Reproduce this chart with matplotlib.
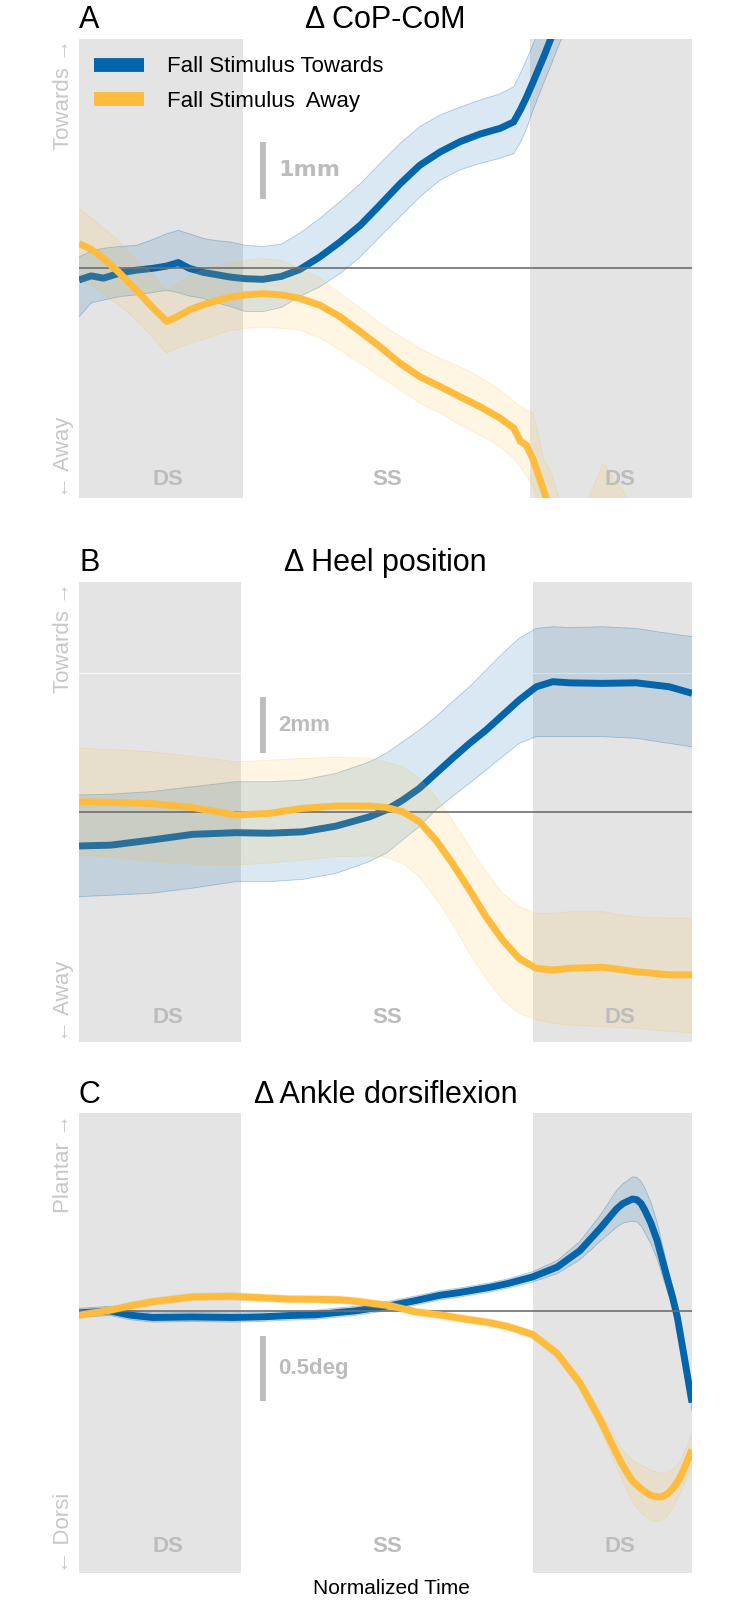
"""
Delta CoP-CoM, heel position and ankle dorsiflexion after a fall stimulus
"""

import matplotlib
matplotlib.use('Agg')
import matplotlib.pyplot as plt
from matplotlib.lines import Line2D

plt.rcParams['font.family'] = ['Liberation Sans', 'DejaVu Sans']

# ---- data (x in % of normalized time) ----
phase_labels = ['DS', 'SS', 'DS']
legend_labels = ['Fall Stimulus Towards', 'Fall Stimulus  Away']

# panel A: CoP-CoM (mm)
t_a = [0, 2, 4, 6.7, 9.4, 12, 14.3, 16.2, 18, 20.3, 22.5, 24.6, 27.2, 30, 33, 36,
       39.3, 42.6, 45.9, 49.1, 52.4, 55.6, 58.9, 62.2, 65.4, 68.7, 70.9, 72.0,
       73.0, 74.1, 75.8, 77.1, 78.5, 82.9, 85.5, 90.4, 95, 100]
towards_a = [-0.2, -0.13, -0.17, -0.08, -0.03, 0.0, 0.04, 0.10, 0.0, -0.07, -0.11,
             -0.15, -0.18, -0.19, -0.14, -0.02, 0.2, 0.46, 0.75, 1.10, 1.47, 1.79,
             2.02, 2.20, 2.33, 2.43, 2.54, 2.75, 2.97, 3.24, 3.67, 4.02, 4.36, 5.3,
             5.8, 6.7, 7.5, 8.3]
towards_a_hi = [0.2, 0.3, 0.35, 0.38, 0.40, 0.5, 0.6, 0.66, 0.6, 0.52, 0.48, 0.46,
                0.40, 0.38, 0.42, 0.61, 0.87, 1.16, 1.47, 1.82, 2.17, 2.46, 2.66,
                2.80, 2.92, 3.03, 3.15, 3.38, 3.62, 3.90, 4.25, 4.5, 4.8, 5.9, 6.4,
                7.3, 8.1, 8.9]
towards_a_lo = [-0.84, -0.6, -0.55, -0.49, -0.46, -0.42, -0.38, -0.42, -0.48, -0.52,
                -0.6, -0.66, -0.75, -0.75, -0.68, -0.49, -0.32, -0.09, 0.2, 0.55,
                0.90, 1.24, 1.53, 1.71, 1.82, 1.91, 1.99, 2.18, 2.42, 2.75, 3.21,
                3.55, 3.93, 4.7, 5.2, 6.1, 6.9, 7.7]
away_a = [0.43, 0.33, 0.17, -0.09, -0.38, -0.68, -0.92, -0.83, -0.72, -0.63, -0.56,
          -0.50, -0.46, -0.44, -0.46, -0.52, -0.64, -0.84, -1.10, -1.36, -1.65,
          -1.88, -2.05, -2.23, -2.40, -2.60, -2.77, -3.0, -3.07, -3.32, -3.85,
          -4.3, -4.9, -6.0, -5.6, -6.0, -6.5, -7.0]
away_a_hi = [1.04, 0.88, 0.7, 0.45, 0.14, -0.09, -0.38, -0.25, -0.12, -0.03, 0.04,
             0.09, 0.14, 0.17, 0.14, 0.0, -0.17, -0.43, -0.69, -0.95, -1.18, -1.39,
             -1.56, -1.71, -1.88, -2.11, -2.30, -2.40, -2.46, -2.51, -3.3, -3.55,
             -4.08, -4.05, -3.38, -4.1, -4.6, -5.0]
away_a_lo = [-0.2, -0.3, -0.45, -0.65, -0.9, -1.2, -1.47, -1.38, -1.3, -1.24, -1.15,
             -1.08, -1.04, -1.02, -1.04, -1.07, -1.21, -1.42, -1.65, -1.88, -2.11,
             -2.34, -2.51, -2.72, -2.89, -3.09, -3.30, -3.44, -3.60, -3.80, -4.3,
             -4.8, -5.4, -7.0, -7.0, -7.5, -8.0, -8.5]

# panel B: heel position (mm)
t_b = [0, 5.2, 11.8, 18.5, 25.6, 31.0, 36.5, 41.9, 47.4, 50.1, 52.8, 55.5, 58.2,
       60.9, 63.7, 66.4, 69.1, 71.8, 74.6, 77.3, 80.0, 85.4, 90.9, 96.3, 100]
towards_b = [-1.21, -1.18, -1.0, -0.8, -0.74, -0.76, -0.71, -0.51, -0.18, 0.06, 0.41,
             0.82, 1.35, 1.88, 2.41, 2.88, 3.41, 3.94, 4.41, 4.59, 4.55, 4.53, 4.55,
             4.41, 4.18]
towards_b_hi = [0.59, 0.62, 0.71, 0.88, 1.06, 1.06, 1.12, 1.35, 1.76, 2.06, 2.47,
                2.88, 3.35, 3.88, 4.41, 5.0, 5.59, 6.12, 6.47, 6.53, 6.5, 6.53, 6.47,
                6.29, 6.18]
towards_b_lo = [-3.0, -2.95, -2.88, -2.7, -2.47, -2.47, -2.39, -2.18, -1.76, -1.47,
                -1.0, -0.53, 0.06, 0.53, 1.0, 1.47, 1.94, 2.41, 2.65, 2.65, 2.65,
                2.65, 2.59, 2.41, 2.29]
away_b = [0.35, 0.33, 0.29, 0.15, -0.12, -0.06, 0.12, 0.2, 0.2, 0.15, 0.0, -0.35,
          -1.0, -1.82, -2.76, -3.71, -4.53, -5.18, -5.53, -5.59, -5.53, -5.49,
          -5.65, -5.76, -5.76]
away_b_hi = [2.24, 2.2, 2.12, 1.95, 1.76, 1.82, 1.88, 1.92, 1.88, 1.76, 1.59, 1.18,
             0.53, -0.29, -1.24, -2.12, -2.88, -3.35, -3.59, -3.59, -3.53, -3.53,
             -3.71, -3.76, -3.76]
away_b_lo = [-1.53, -1.6, -1.76, -1.85, -1.88, -1.82, -1.71, -1.59, -1.56, -1.61,
             -1.82, -2.29, -3.06, -3.94, -5.0, -5.88, -6.65, -7.12, -7.35, -7.47,
             -7.53, -7.59, -7.65, -7.76, -7.8]

# panel C: ankle dorsiflexion (deg), mean and spread
t_c = [0, 5, 8.5, 12, 18.5, 25, 30, 34.4, 38.5, 42.6, 45, 50.7, 55, 58.9, 62, 67,
       70, 74, 78, 81.7, 85, 87.7, 88.7, 89.6, 90.3, 91, 91.7, 92.3, 93.3, 94.3,
       95.1, 95.9, 96.8, 97.6, 98.4, 99.2, 100]
towards_c = [-0.015, 0.0, -0.033, -0.05, -0.046, -0.05, -0.045, -0.035, -0.03,
             -0.01, 0.0, 0.04, 0.08, 0.12, 0.14, 0.18, 0.21, 0.26, 0.335, 0.46,
             0.63, 0.78, 0.82, 0.84, 0.855, 0.85, 0.82, 0.77, 0.67, 0.54, 0.40,
             0.26, 0.11, -0.046, -0.26, -0.48, -0.70]
towards_c_sd = [0.035, 0.035, 0.035, 0.035, 0.035, 0.035, 0.035, 0.035, 0.035,
                0.035, 0.035, 0.035, 0.035, 0.035, 0.035, 0.035, 0.035, 0.04, 0.05,
                0.07, 0.1, 0.14, 0.15, 0.16, 0.17, 0.17, 0.17, 0.17, 0.16, 0.14,
                0.12, 0.1, 0.08, 0.06, 0.05, 0.05, 0.06]
away_c = [-0.033, 0.005, 0.04, 0.07, 0.107, 0.112, 0.1, 0.09, 0.089, 0.085, 0.075,
          0.04, -0.008, -0.03, -0.055, -0.09, -0.12, -0.18, -0.325, -0.55, -0.83,
          -1.09, -1.18, -1.25, -1.30, -1.33, -1.36, -1.38, -1.41, -1.42, -1.42,
          -1.40, -1.36, -1.31, -1.24, -1.15, -1.06]
away_c_sd = [0.03, 0.03, 0.03, 0.03, 0.03, 0.03, 0.03, 0.03, 0.03, 0.03, 0.03, 0.03,
             0.03, 0.03, 0.03, 0.03, 0.03, 0.03, 0.04, 0.05, 0.07, 0.1, 0.12, 0.14,
             0.16, 0.17, 0.18, 0.19, 0.19, 0.19, 0.18, 0.17, 0.15, 0.13, 0.12,
             0.12, 0.12]

BLUE = '#0565ab'
ORANGE = '#fdbc3d'
GRAY_BG = '#e4e4e4'
GRAY_TXT = '#bcbcbc'
DIR_TXT = '#c8c8c8'


def draw_panel(ax, t, tw, tw_lo, tw_hi, aw, aw_lo, aw_hi, ylim, ds1, ds2, label_y):
    """Phase shading, bands, means and zero line for one panel."""
    ax.set_xlim(0, 100)
    ax.set_ylim(*ylim)
    ax.axvspan(0, ds1, color=GRAY_BG, lw=0, zorder=0)
    ax.axvspan(ds2, 100, color=GRAY_BG, lw=0, zorder=0)

    ax.fill_between(t, tw_lo, tw_hi, facecolor=BLUE, alpha=0.15, lw=0, zorder=1)
    ax.plot(t, tw_lo, color=BLUE, lw=0.6, alpha=0.3, zorder=1)
    ax.plot(t, tw_hi, color=BLUE, lw=0.6, alpha=0.3, zorder=1)
    ax.plot(t, tw, color=BLUE, lw=5, solid_capstyle='butt',
            solid_joinstyle='round', zorder=2)

    ax.fill_between(t, aw_lo, aw_hi, facecolor=ORANGE, alpha=0.15, lw=0, zorder=3)
    ax.plot(t, aw_lo, color=ORANGE, lw=0.6, alpha=0.2, zorder=3)
    ax.plot(t, aw_hi, color=ORANGE, lw=0.6, alpha=0.2, zorder=3)
    ax.axhline(0, color='#6e6e6e', lw=1.2, zorder=4)
    ax.plot(t, aw, color=ORANGE, lw=5, solid_capstyle='butt',
            solid_joinstyle='round', zorder=5)

    xs = [14.5, 50.2, 88.3]
    for x, lab in zip(xs, phase_labels):
        ax.text(x, label_y, lab, transform=ax.get_xaxis_transform(), ha='center',
                va='center', fontsize=16, fontweight='bold', color=GRAY_TXT, zorder=6)

    for s in ax.spines.values():
        s.set_visible(False)
    ax.set(xticks=[], yticks=[])


def scale_bar(ax, y0, y1, text, family=None):
    ax.plot([30, 30], [y0, y1], color=GRAY_TXT, lw=4.2, solid_capstyle='butt', zorder=6)
    kw = dict(fontsize=16, fontweight='bold', color=GRAY_TXT, ha='left', va='center',
              zorder=6)
    if family:
        kw['family'] = family
    ax.text(32.5, (y0 + y1) / 2, text, **kw)


def titles(ax, letter, title, up, down):
    ax.text(0, 1.023, letter, transform=ax.transAxes, fontsize=22, va='baseline',
            ha='left')
    ax.text(0.5, 1.023, title, transform=ax.transAxes, fontsize=22, va='baseline',
            ha='center')
    ax.text(-0.026, 1.0, up + ' \u2192', transform=ax.transAxes, rotation=90,
            ha='center', va='top', fontsize=16, color=DIR_TXT)
    ax.text(-0.026, 0.0, '\u2190 ' + down, transform=ax.transAxes, rotation=90,
            ha='center', va='bottom', fontsize=16, color=DIR_TXT)


W, H = 746, 1600
fig = plt.figure(figsize=(W / 100, H / 100), dpi=100)
left, width = 79 / W, 613 / W
ax_a = fig.add_axes([left, 1 - 498.3 / H, width, 459.3 / H])
ax_b = fig.add_axes([left, 1 - 1041.7 / H, width, 460 / H])
ax_c = fig.add_axes([left, 1 - 1572.7 / H, width, 459.4 / H])

draw_panel(ax_a, t_a, towards_a, towards_a_lo, towards_a_hi,
           away_a, away_a_lo, away_a_hi, (-3.99, 3.98), 26.8, 73.6, 0.042)
scale_bar(ax_a, 1.2, 2.2, '1mm', family='DejaVu Sans')
titles(ax_a, 'A', '\u0394 CoP-CoM', 'Towards', 'Away')
handles = [Line2D([], [], color=BLUE, lw=10, solid_capstyle='butt'),
           Line2D([], [], color=ORANGE, lw=10, solid_capstyle='butt')]
ax_a.legend(handles, legend_labels, loc='upper left', bbox_to_anchor=(0.025, 0.962),
            frameon=False, fontsize=16, handlelength=2.25, handletextpad=1.0,
            labelspacing=0.59, borderpad=0, borderaxespad=0)

draw_panel(ax_b, t_b, towards_b, towards_b_lo, towards_b_hi,
           away_b, away_b_lo, away_b_hi, (-8.12, 8.12), 26.5, 74.1, 0.052)
ax_b.axhline(4.88, color='white', lw=0.9, alpha=0.8, zorder=0.5)
scale_bar(ax_b, 2.06, 4.06, '2mm')
titles(ax_b, 'B', '\u0394 Heel position', 'Towards', 'Away')

tc_lo = [m - s for m, s in zip(towards_c, towards_c_sd)]
tc_hi = [m + s for m, s in zip(towards_c, towards_c_sd)]
ac_lo = [m - s for m, s in zip(away_c, away_c_sd)]
ac_hi = [m + s for m, s in zip(away_c, away_c_sd)]
draw_panel(ax_c, t_c, towards_c, tc_lo, tc_hi, away_c, ac_lo, ac_hi,
           (-2.0, 1.51), 26.5, 74.1, 0.058)
scale_bar(ax_c, -0.69, -0.19, '0.5deg')
titles(ax_c, 'C', '\u0394 Ankle dorsiflexion', 'Plantar', 'Dorsi')

fig.text(391 / W, 1 - 1588 / H, 'Normalized Time', ha='center', va='center',
         fontsize=15)

fig.savefig('out.png', dpi=100)
